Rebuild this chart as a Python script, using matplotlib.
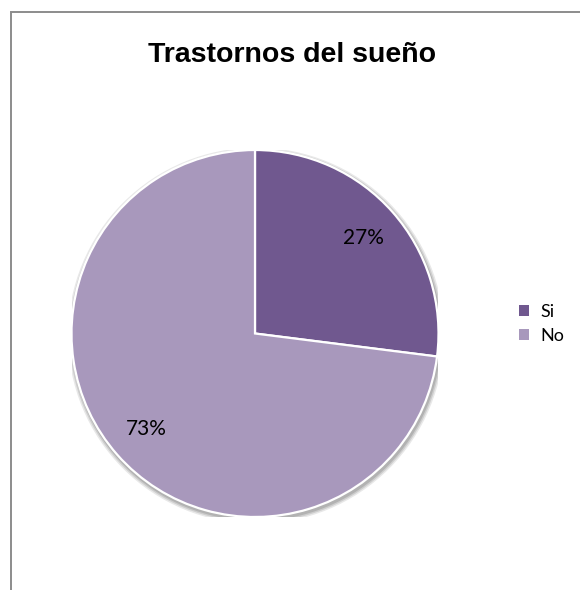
import matplotlib.pyplot as plt
from matplotlib.patches import Circle, Rectangle

labels = ['Si', 'No']
values = [27, 73]
colors = ['#70588f', '#a898bc']
title = 'Trastornos del sueño'

W, H = 580, 590
fig = plt.figure(figsize=(W / 100, H / 100), dpi=100)

# outer chart frame (left and top edges visible, the rest runs off the image)
fig.patches.append(Rectangle((10.5 / W, -0.1), 1.2, (H - 11.5) / H + 0.1,
                             transform=fig.transFigure, fill=False,
                             edgecolor='#8c8c8c', linewidth=1.4))

cx, cy, r = 255, 333.5, 183.5
ax = fig.add_axes([(cx - r) / W, (H - cy - r) / H, 2 * r / W, 2 * r / H])
ax.set_xlim(-1, 1)
ax.set_ylim(-1, 1)
ax.set_aspect('equal')
ax.axis('off')

# soft grey shadow under the pie
for k, a in enumerate([0.18, 0.25, 0.35]):
    ax.add_patch(Circle((0.006, -0.012), 1.025 - k * 0.008, color='#808080',
                        alpha=a, lw=0, zorder=0))

wedges, texts, autotexts = ax.pie(values, colors=colors, startangle=90,
                                  counterclock=False, radius=1.0,
                                  autopct='%.0f%%', pctdistance=0.79,
                                  wedgeprops=dict(edgecolor='white', linewidth=1.6),
                                  textprops=dict(fontsize=15, family='Lato', color='black'))
for w in wedges:
    w.set_zorder(2)
for t in autotexts:
    t.set_zorder(3)
ax.set_xlim(-1.0, 1.0)
ax.set_ylim(-1.0, 1.0)

fig.text(292 / W, 1 - 55 / H, title, ha='center', va='center',
         fontsize=20.5, fontweight='bold', family='Liberation Sans')

leg = fig.legend(wedges, labels, loc='center left',
                 bbox_to_anchor=(503 / W, 1 - 324 / H),
                 frameon=False, prop=dict(family='Lato', size=13),
                 handlelength=0.55, handleheight=0.55, handletextpad=0.6,
                 labelspacing=0.45)
for h in leg.legend_handles:
    h.set_edgecolor('none')

fig.savefig('out.png', dpi=100)
